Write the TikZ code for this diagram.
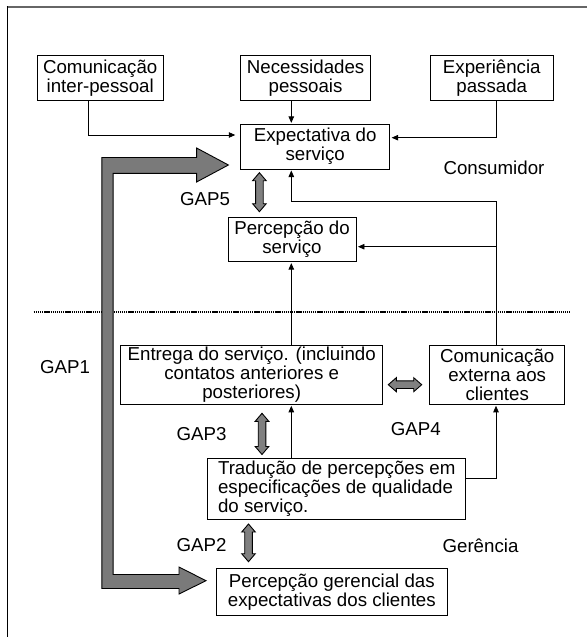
\documentclass[tikz,border=0pt]{standalone}
\usepackage{fontspec}
\setmainfont{Liberation Sans}
\usetikzlibrary{arrows.meta}
\newcommand{\boxfont}{\fontsize{18.7}{19}\selectfont}
% vertical double-headed gap arrow: centre x, top y, bottom y
\newcommand{\gapvert}[3]{%
  \filldraw[gaparrow] (#1,#2) -- (#1+6.8,#2+8) -- (#1+3.8,#2+8) -- (#1+3.8,#3-8)
    -- (#1+6.8,#3-8) -- (#1,#3) -- (#1-6.8,#3-8) -- (#1-3.8,#3-8)
    -- (#1-3.8,#2+8) -- (#1-6.8,#2+8) -- cycle;}
% horizontal double-headed gap arrow: centre y, left x, right x
\newcommand{\gaphoriz}[3]{%
  \filldraw[gaparrow] (#2,#1) -- (#2+8,#1-7) -- (#2+8,#1-3.8) -- (#3-8,#1-3.8)
    -- (#3-8,#1-7) -- (#3,#1) -- (#3-8,#1+7) -- (#3-8,#1+3.8)
    -- (#2+8,#1+3.8) -- (#2+8,#1+7) -- cycle;}

\begin{document}
\begin{tikzpicture}[x=1pt,y=-1pt,
  box/.style={draw=black, line width=0.9pt, inner sep=0pt, align=center,
              font=\boxfont, text=black},
  lbl/.style={font=\boxfont, inner sep=0pt, text=black},
  conn/.style={draw=black, line width=0.8pt, -{Triangle[length=6.5pt,width=5.5pt]}},
  gaparrow/.style={fill=black!50, draw=black, line width=0.9pt, line join=miter},
  bigarrow/.style={fill=black!52, draw=black, line width=0.9pt, line join=miter}
]
\useasboundingbox (0,0) rectangle (587,637);

% page frame
\draw[black!60, line width=1.2pt] (6.7,7) -- (587,7);
\draw[black, line width=1.3pt] (7.3,6.4) -- (7.3,637);

% consumer side
\node[box, minimum width=126pt, minimum height=44.5pt] (com) at (100.2,77.8)
  {Comunicação\\inter-pessoal};
\node[box, minimum width=130pt, minimum height=44.5pt] (nec) at (305.6,77.8)
  {Necessidades\\pessoais};
\node[box, minimum width=122.5pt, minimum height=44.5pt] (exp) at (491.8,77.8)
  {Experiência\\passada};
\node[box, minimum width=149pt, minimum height=44.7pt] (expt) at (315.2,146.7)
  {Expectativa do\\serviço};
\node[box, minimum width=128pt, minimum height=44.7pt] (perc) at (292,239.3)
  {Percepção do\\serviço};
\node[lbl] (cons) at (494,168.3) {Consumidor};

% boundary between consumer and management
\draw[black, line width=1.9pt, dash pattern=on 1.3pt off 0.8pt] (33.7,312) -- (570,312);

% management side
\node[box, minimum width=262.2pt, minimum height=59.3pt] (ent) at (251.7,374.7)
  {Entrega do serviço. (incluindo\\contatos anteriores e\\posteriores)};
\node[box, minimum width=135.2pt, minimum height=59.3pt] (cext) at (497.2,374.7)
  {Comunicação\\externa aos\\clientes};
\node[box, align=left, inner xsep=10.5pt, minimum width=257.6pt, minimum height=60.7pt]
  (trad) at (336.7,488.7)
  {Tradução de percepções em\\especificações de qualidade\\do serviço.};
\node[box, minimum width=231.6pt, minimum height=47.4pt] (pger) at (331.8,592)
  {Percepção gerencial das\\expectativas dos clientes};
\node[lbl] (ger) at (480.5,545.7) {Gerência};

% gap labels
\node[lbl] (g5) at (205,199.3) {GAP5};
\node[lbl] (g1) at (65,366.7) {GAP1};
\node[lbl] (g3) at (201.5,434) {GAP3};
\node[lbl] (g4) at (415.7,429) {GAP4};
\node[lbl] (g2) at (201.5,545) {GAP2};

% routing columns and rows of the thin connectors
\coordinate (xa) at (88.4,0);
\coordinate (xb) at (291.3,0);
\coordinate (xc) at (496,0);
\coordinate (ya) at (0,135);
\coordinate (yb) at (0,137.7);
\coordinate (yd) at (0,201);
\coordinate (ye) at (0,246.7);
\coordinate (yf) at (0,478.3);

% thin connectors
\draw[conn, shorten >=5pt] (com.south -| xa) |- (expt.west |- ya);
\draw[conn, shorten >=1pt] (nec.south -| xb) -- (expt.north -| xb);
\draw[conn, shorten >=1.5pt] (exp.south -| xc) |- (expt.east |- yb);
\draw[conn, shorten >=1pt] (cext.north -| xc) -- (xc |- yd) -- (xb |- yd) -- (expt.south -| xb);
\draw[conn, shorten >=1.5pt] (xc |- ye) -- (perc.east |- ye);
\draw[conn, shorten >=1pt] (ent.north -| xb) -- (perc.south -| xb);
\draw[conn, shorten >=1pt] (trad.north -| xb) -- (ent.south -| xb);
\draw[conn, shorten >=1pt] (trad.east |- yf) -| (cext.south -| xc);

% gap arrows
\gapvert{259.4}{172.7}{211.7}
\gapvert{262}{413.3}{454.5}
\gapvert{248.5}{524}{561.7}
\gaphoriz{384.7}{388.3}{421.7}

% GAP1: wide bent arrow from the management perception to the expectation
\filldraw[bigarrow]
  (101.9,157.5) -- (196.6,157.5) -- (196.6,148) -- (228.4,165) -- (196.6,182)
  -- (196.6,173.3) -- (113.1,173.3) -- (113.1,574.5) -- (179,574.5)
  -- (179,567) -- (206,580.7) -- (179,594) -- (179,588.5) -- (101.9,588.5) -- cycle;
\end{tikzpicture}
\end{document}
